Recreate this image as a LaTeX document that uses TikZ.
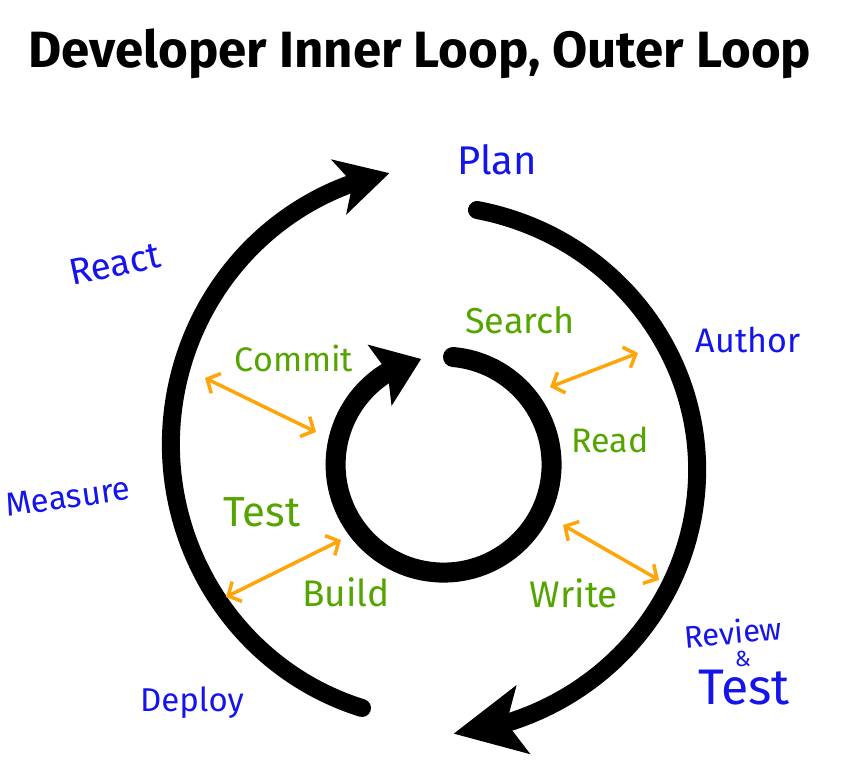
\documentclass[tikz,border=0pt]{standalone}
\usepackage{fontspec}
\setmainfont{Fira Sans}
\usetikzlibrary{arrows.meta, bending}
\definecolor{phaseblue}{RGB}{20,20,235}
\definecolor{taskgreen}{RGB}{85,165,0}
\definecolor{linkorange}{RGB}{255,165,10}

\begin{document}
\begin{tikzpicture}[
x=1pt, y=1pt,
outer/.style={draw=black, line width=18pt, line cap=round},
inner/.style={draw=black, line width=20pt, line cap=round},
phase/.style={text=phaseblue, inner sep=0pt, font=\fontsize{34}{38}\selectfont},
task/.style={text=taskgreen, inner sep=0pt, font=\fontsize{34}{38}\selectfont},
link/.style={draw=linkorange, line width=3.5pt, line cap=round,
  {Straight Barb[length=10pt,width=22pt]}-{Straight Barb[length=10pt,width=22pt]}}
]
\useasboundingbox (0,0) rectangle (843,-763);
\node[font=\fontsize{51}{56}\selectfont\bfseries, inner sep=0pt] (title) at (420,-54) {Developer Inner Loop, Outer Loop};

% outer loop
\coordinate (leftStart) at (362,-708);
\coordinate (rightStart) at (477,-210);
\draw[outer, -{Stealth[length=52pt,width=56pt,inset=14pt]}] (leftStart) arc[start angle=253, end angle=101, x radius=270, y radius=276];
\draw[outer, -{Stealth[length=70pt,width=68pt,inset=16pt]}] (rightStart) arc[start angle=79, end angle=-84, x radius=272, y radius=265];

% inner loop
\coordinate (inStart) at (453,-357);
\draw[inner, -{Stealth[length=44pt,width=64pt,inset=8pt]}] (inStart) arc[start angle=85, end angle=-258, radius=108];

% outer phases
\node[phase, font=\fontsize{40}{44}\selectfont] (plan) at (497,-160) {Plan};
\node[phase, rotate=12, font=\fontsize{37}{40}\selectfont] (react) at (115,-264) {React};
\node[phase] (author) at (748,-340) {Author};
\node[phase, rotate=8, font=\fontsize{33}{36}\selectfont] (measure) at (68,-497) {Measure};
\node[phase, rotate=5, font=\fontsize{31}{34}\selectfont] (review) at (733,-632) {Review};
\node[phase, font=\fontsize{22}{24}\selectfont] (amp) at (743,-659) {\&};
\node[phase, font=\fontsize{50}{54}\selectfont] (revtest) at (744,-688) {Test};
\node[phase, font=\fontsize{33}{36}\selectfont] (deploy) at (192,-703) {Deploy};

% inner tasks
\node[task, font=\fontsize{36}{40}\selectfont] (search) at (520,-320) {Search};
\node[task] (commit) at (294,-358) {Commit};
\node[task] (read) at (610,-440) {Read};
\node[task, font=\fontsize{42}{46}\selectfont] (test) at (262,-512) {Test};
\node[task, font=\fontsize{37}{40}\selectfont] (build) at (346,-592) {Build};
\node[task, font=\fontsize{37}{40}\selectfont] (write) at (574,-593) {Write};

% links between the loops
\coordinate (commitA) at (205,-378);
\coordinate (commitB) at (316,-432);
\coordinate (buildA) at (226,-597);
\coordinate (buildB) at (341,-540);
\coordinate (searchA) at (550,-387);
\coordinate (searchB) at (638,-353);
\coordinate (writeA) at (563,-525);
\coordinate (writeB) at (659,-580);
\draw[link] (commitA) -- (commitB);
\draw[link] (buildA) -- (buildB);
\draw[link] (searchA) -- (searchB);
\draw[link] (writeA) -- (writeB);
\end{tikzpicture}
\end{document}
